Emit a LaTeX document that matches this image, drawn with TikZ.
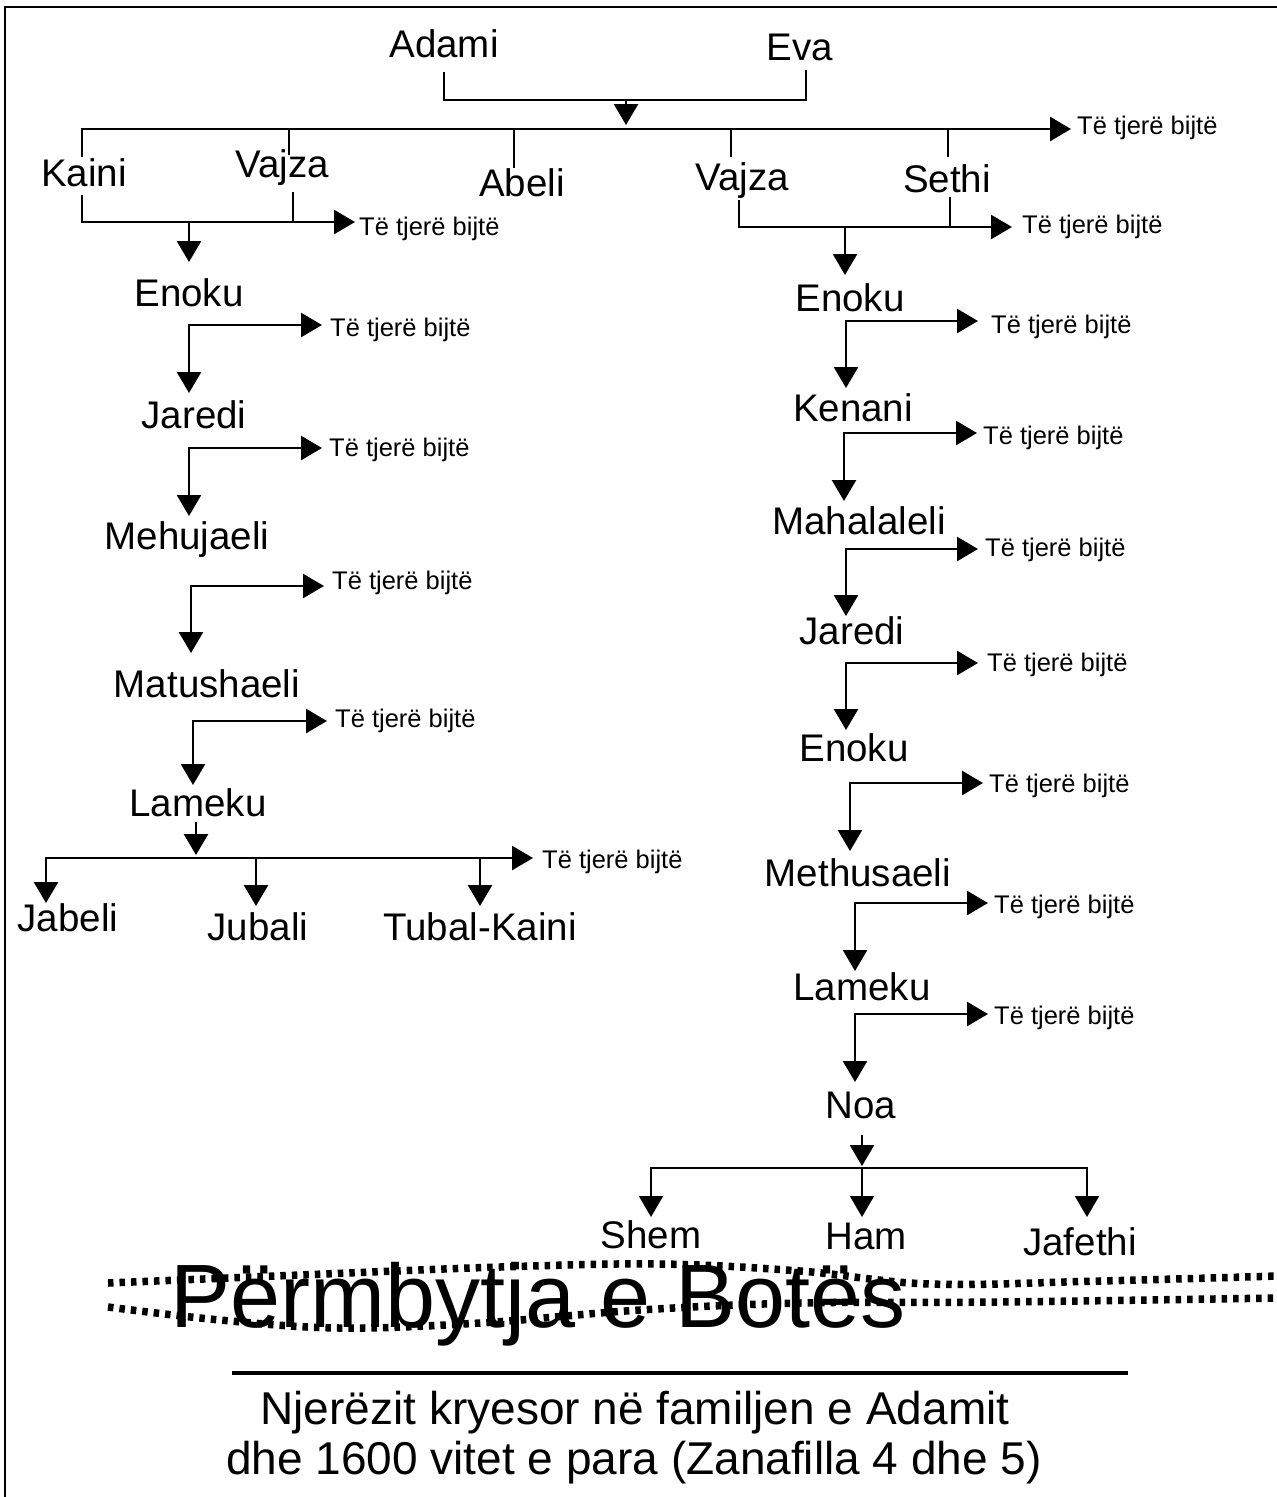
\documentclass[tikz,border=0pt]{standalone}
\usepackage{fontspec}
\setmainfont{Liberation Sans}
\usetikzlibrary{arrows.meta,calc}
\begin{document}
\begin{tikzpicture}[x=1pt,y=-1pt,
  nm/.style={inner sep=0pt,font=\fontsize{38.5}{46}\selectfont},
  ot/.style={inner sep=0pt,anchor=west,font=\fontsize{25.5}{30}\selectfont},
  ln/.style={line width=2.6pt},
  tipk/.tip={Triangle[length=21pt,width=24pt]},
  arr/.style={line width=2.6pt,-tipk},
  darr/.style={line width=2.6pt,tipk-tipk},
  wave/.style={line width=7.5pt,dash pattern=on 5.5pt off 6pt},
]
\useasboundingbox (0,0) rectangle (1277,1497);
\fill[white] (0,0) rectangle (1277,1497);
\draw[line width=2pt] (5,1497) -- (5,7) -- (1277,7);

% ---- top generation
\node[nm] (adami) at (444,44) {Adami};
\node[nm] (eva) at (800,47) {Eva};
\coordinate (ad1) at (444,72); \coordinate (ad2) at (444,100);
\coordinate (ev1) at (806,70); \coordinate (ev2) at (806,100);
\draw[ln] (ad1) -- (ad2) -- (ev2) -- (ev1);
\coordinate (m0) at (626,100); \coordinate (m1) at (626,125);
\draw[arr] (m0) -- (m1);

\node[nm] (kaini) at (84,173) {Kaini};
\node[nm] (vajzaA) at (282,168) {Vajza};
\node[nm] (abeli) at (522,183) {Abeli};
\node[nm] (vajzaB) at (742,181) {Vajza};
\node[nm] (sethi) at (947,179) {Sethi};
\node[ot] (o0) at (1077,128) {Të tjerë bijtë};
\coordinate (g0) at (82,157); \coordinate (g1) at (82,129); \coordinate (g2) at (1071,129);
\draw[arr] (g0) -- (g1) -- (g2);
\draw[ln] (289,129) -- (289,155);
\draw[ln] (514,129) -- (514,168);
\draw[ln] (731,129) -- (731,157);
\draw[ln] (948,129) -- (948,157);

% ---- Kaini + Vajza
\node[ot] (o1) at (359,229) {Të tjerë bijtë};
\draw[arr] (82,195) -- (82,222) -- (355,222);
\draw[ln] (293,192) -- (293,222);
\draw[arr] (189,222) -- (189,262);

% ---- Vajza + Sethi
\node[ot] (o2) at (1022,227) {Të tjerë bijtë};
\draw[arr] (739,200) -- (739,227) -- (1012,227);
\draw[ln] (950,197) -- (950,227);
\draw[arr] (845,227) -- (845,275);

% ---- left chain
\node[nm] (enokuL) at (189,293) {Enoku};
\node[ot] (o3) at (330,330) {Të tjerë bijtë};
\draw[darr] (189,393) -- (189,325) -- (322,325);
\node[nm] (arediL) at (194,415) {Jaredi};
\node[ot] (o4) at (329,450) {Të tjerë bijtë};
\draw[darr] (189,516) -- (189,448) -- (322,448);
\node[nm] (mehujaeli) at (187,540) {Mehujaeli};
\node[ot] (o5) at (332,583) {Të tjerë bijtë};
\draw[darr] (191,653) -- (191,586) -- (324,586);
\node[nm] (matushaeli) at (207,684) {Matushaeli};
\node[ot] (o6) at (335,721) {Të tjerë bijtë};
\draw[darr] (193,785) -- (193,721) -- (327,721);
\node[nm] (lamekuL) at (198,803) {Lameku};
\draw[arr] (196,822) -- (196,855);
\node[ot] (o7) at (542,862) {Të tjerë bijtë};
\draw[darr] (46,903) -- (46,858) -- (533,858);
\draw[arr] (256,858) -- (256,906);
\draw[arr] (480,858) -- (480,906);
\node[nm] (jabeli) at (68,918) {Jabeli};
\node[nm] (jubali) at (258,927) {Jubali};
\node[nm] (tubal) at (480,927) {Tubal-Kaini};

% ---- right chain
\node[nm] (enokuR) at (850,298) {Enoku};
\node[ot] (r1) at (991,327) {Të tjerë bijtë};
\draw[darr] (846,388) -- (846,321) -- (978,321);
\node[nm] (kenani) at (853,408) {Kenani};
\node[ot] (r2) at (983,438) {Të tjerë bijtë};
\draw[darr] (844,501) -- (844,433) -- (977,433);
\node[nm] (mahalaleli) at (859,521) {Mahalaleli};
\node[ot] (r3) at (985,550) {Të tjerë bijtë};
\draw[darr] (846,616) -- (846,549) -- (978,549);
\node[nm] (jarediR) at (852,631) {Jaredi};
\node[ot] (r4) at (987,665) {Të tjerë bijtë};
\draw[darr] (846,730) -- (846,663) -- (978,663);
\node[nm] (enokuR2) at (854,748) {Enoku};
\node[ot] (r5) at (989,786) {Të tjerë bijtë};
\draw[darr] (850,851) -- (850,783) -- (983,783);
\node[nm] (methusaeli) at (858,873) {Methusaeli};
\node[ot] (r6) at (994,907) {Të tjerë bijtë};
\draw[darr] (855,971) -- (855,903) -- (988,903);
\node[nm] (lamekuR) at (862,987) {Lameku};
\node[ot] (r7) at (994,1018) {Të tjerë bijtë};
\draw[darr] (855,1082) -- (855,1014) -- (988,1014);
\node[nm] (noa) at (861,1105) {Noa};
\draw[arr] (862,1135) -- (862,1166);
\draw[line width=2pt,tipk-tipk] (651,1217) -- (651,1168) -- (1087,1168) -- (1087,1217);
\draw[line width=2pt,-tipk] (862,1168) -- (862,1217);
\node[nm] (shem) at (651,1235) {Shem};
\node[nm] (ham) at (866,1236) {Ham};
\node[nm] (jafethi) at (1080,1242) {Jafethi};

% ---- flood
\node[inner sep=0pt,font=\fontsize{90}{100}\selectfont] (flood) at (538,1304) {Përmbytja e Botës};
\draw[wave] plot[smooth,tension=0.6] coordinates {(108,1283) (300,1275) (500,1267) (660,1264) (800,1271) (930,1284) (1100,1281) (1277,1276)};
\draw[wave] plot[smooth,tension=0.6] coordinates {(108,1307) (220,1320) (340,1328) (480,1323) (640,1310) (800,1303) (1000,1302) (1277,1298)};

% ---- caption
\draw[line width=4pt] (232,1373) -- (1128,1373);
\node[inner sep=0pt,font=\fontsize{46}{50}\selectfont] (cap1) at (635,1413) {Njerëzit kryesor në familjen e Adamit};
\node[inner sep=0pt,font=\fontsize{46}{50}\selectfont] (cap2) at (634,1463) {dhe 1600 vitet e para (Zanafilla 4 dhe 5)};
\end{tikzpicture}
\end{document}
